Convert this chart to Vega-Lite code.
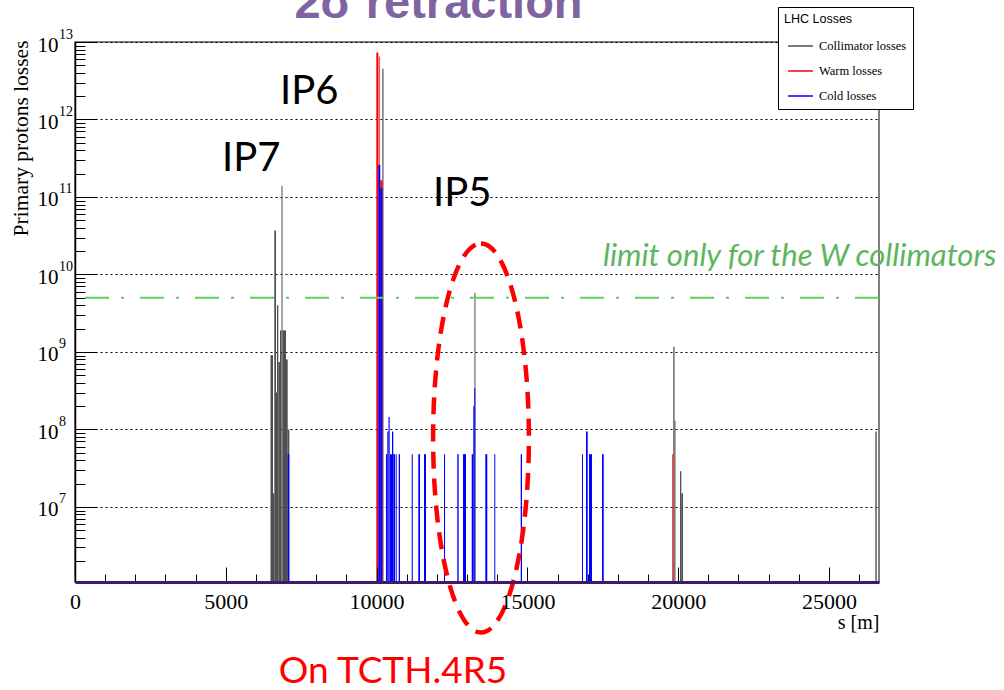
{
 "$schema": "https://vega.github.io/schema/vega-lite/v6.json",
 "width": 804,
 "height": 540,
 "autosize": {"type": "none"},
 "padding": {"left": 75, "top": 42, "right": 125, "bottom": 108},
 "background": "white",
 "config": {"view": {"stroke": "#555555", "strokeWidth": 1.5}, "font": "Liberation Serif"},
 "resolve": {"axis": {"x": "independent", "y": "independent"}},
 "layer": [
  {
   "data": {"values": [
    {"type": "Collimator losses", "s0": 6482, "s1": 6565, "v": 9.1e8},
    {"type": "Collimator losses", "s0": 6565, "s1": 6608, "v": 1.5e7},
    {"type": "Collimator losses", "s0": 6608, "s1": 6665, "v": 3.7e10},
    {"type": "Collimator losses", "s0": 6665, "s1": 6698, "v": 3.0e8},
    {"type": "Collimator losses", "s0": 6698, "s1": 6741, "v": 4.0e9},
    {"type": "Collimator losses", "s0": 6741, "s1": 6797, "v": 7.4e8},
    {"type": "Collimator losses", "s0": 6797, "s1": 6847, "v": 1.9e9},
    {"type": "Collimator losses", "s0": 6847, "s1": 6880, "v": 1.4e11},
    {"type": "Collimator losses", "s0": 6880, "s1": 6996, "v": 1.9e9},
    {"type": "Collimator losses", "s0": 6996, "s1": 7053, "v": 8.0e8},
    {"type": "Collimator losses", "s0": 7053, "s1": 7106, "v": 1.0e8},
    {"type": "Collimator losses", "s0": 10190, "s1": 10229, "v": 4.5e12},
    {"type": "Collimator losses", "s0": 13245, "s1": 13278, "v": 5.8e9},
    {"type": "Collimator losses", "s0": 19838, "s1": 19880, "v": 1.17e9},
    {"type": "Collimator losses", "s0": 19880, "s1": 19910, "v": 1.3e8},
    {"type": "Collimator losses", "s0": 20061, "s1": 20104, "v": 2.9e7},
    {"type": "Collimator losses", "s0": 20104, "s1": 20160, "v": 1.5e7},
    {"type": "Collimator losses", "s0": 26537, "s1": 26583, "v": 9.4e7},
    {"type": "Warm losses", "s0": 9991, "s1": 10057, "v": 7.3e12},
    {"type": "Warm losses", "s0": 10070, "s1": 10103, "v": 6.5e12},
    {"type": "Warm losses", "s0": 10123, "s1": 10196, "v": 1.65e11},
    {"type": "Warm losses", "s0": 19805, "s1": 19838, "v": 4.8e7},
    {"type": "Cold losses", "s0": 7053, "s1": 7106, "v": 4.8e7},
    {"type": "Cold losses", "s0": 10057, "s1": 10123, "v": 2.6e11},
    {"type": "Cold losses", "s0": 10123, "s1": 10190, "v": 1.3e11},
    {"type": "Cold losses", "s0": 10312, "s1": 10355, "v": 4.8e7},
    {"type": "Cold losses", "s0": 10355, "s1": 10395, "v": 9.4e7},
    {"type": "Cold losses", "s0": 10395, "s1": 10435, "v": 1.45e8},
    {"type": "Cold losses", "s0": 10445, "s1": 10511, "v": 4.8e7},
    {"type": "Cold losses", "s0": 10511, "s1": 10554, "v": 9.4e7},
    {"type": "Cold losses", "s0": 10554, "s1": 10611, "v": 4.8e7},
    {"type": "Cold losses", "s0": 10634, "s1": 10667, "v": 4.8e7},
    {"type": "Cold losses", "s0": 10733, "s1": 10776, "v": 4.8e7},
    {"type": "Cold losses", "s0": 11164, "s1": 11200, "v": 4.8e7},
    {"type": "Cold losses", "s0": 11383, "s1": 11440, "v": 4.8e7},
    {"type": "Cold losses", "s0": 11572, "s1": 11638, "v": 4.8e7},
    {"type": "Cold losses", "s0": 12235, "s1": 12270, "v": 4.8e7},
    {"type": "Cold losses", "s0": 12676, "s1": 12722, "v": 4.8e7},
    {"type": "Cold losses", "s0": 12865, "s1": 12965, "v": 4.8e7},
    {"type": "Cold losses", "s0": 13154, "s1": 13207, "v": 4.8e7},
    {"type": "Cold losses", "s0": 13207, "s1": 13240, "v": 2.0e8},
    {"type": "Cold losses", "s0": 13240, "s1": 13273, "v": 3.4e8},
    {"type": "Cold losses", "s0": 13605, "s1": 13671, "v": 4.8e7},
    {"type": "Cold losses", "s0": 13903, "s1": 13936, "v": 4.8e7},
    {"type": "Cold losses", "s0": 14779, "s1": 14822, "v": 4.8e7},
    {"type": "Cold losses", "s0": 16811, "s1": 16844, "v": 4.8e7},
    {"type": "Cold losses", "s0": 16944, "s1": 17000, "v": 9.4e7},
    {"type": "Cold losses", "s0": 17043, "s1": 17143, "v": 4.8e7},
    {"type": "Cold losses", "s0": 17474, "s1": 17531, "v": 4.8e7}
   ]},
   "mark": {"type": "rect", "strokeWidth": 0},
   "encoding": {
    "x": {"field": "s0", "type": "quantitative",
     "scale": {"domain": [0, 26659], "nice": false, "zero": false},
     "axis": {
      "title": "s [m]", "orient": "bottom",
      "values": [0, 5000, 10000, 15000, 20000, 25000],
      "format": "d",
      "labelFont": "Liberation Serif", "labelFontSize": 22, "labelColor": "black",
      "labelPadding": 24, "labelFlush": false, "labelOverlap": false, "labelBound": false,
      "tickSize": -15, "tickColor": "black", "tickWidth": 1,
      "domainColor": "#3d1a6b", "domainWidth": 3,
      "grid": false, "zindex": 1,
      "titleFont": "Liberation Serif", "titleFontSize": 20, "titleFontWeight": "normal", "titleColor": "black",
      "titleX": 804, "titleY": 46, "titleAlign": "right", "titleBaseline": "alphabetic", "titleAnchor": "end"
     }},
    "x2": {"field": "s1"},
    "y": {"field": "v", "type": "quantitative",
     "scale": {"type": "log", "domain": [1.076e6, 1e13], "nice": false},
     "axis": {
      "title": "Primary protons losses", "orient": "left",
      "values": [1e7, 1e8, 1e9, 1e10, 1e11, 1e12, 1e13],
      "labelExpr": "'10'",
      "labelFont": "Liberation Serif", "labelFontSize": 21, "labelColor": "black",
      "labelPadding": 39, "labelOffset": 3, "labelOverlap": false, "labelBound": false, "labelFlush": false,
      "tickSize": -22, "tickColor": "black", "tickWidth": 1,
      "domainColor": "black", "domainWidth": 1.5,
      "grid": true, "gridColor": "black", "gridDash": [2, 3], "gridWidth": 1,
      "titleFont": "Liberation Serif", "titleFontSize": 21.5, "titleFontWeight": "normal", "titleColor": "black",
      "titleAnchor": "end", "titleAngle": 270, "titleX": -48, "titleY": -2, "titleAlign": "right", "titleBaseline": "alphabetic"
     }},
    "y2": {"datum": 1.076e6},
    "fill": {"field": "type", "type": "nominal",
     "scale": {"domain": ["Collimator losses", "Warm losses", "Cold losses"], "range": ["#4f4f4f", "#ff0000", "#0000ff"]},
     "legend": {
      "title": "LHC Losses",
      "orient": "none", "legendX": 703, "legendY": -35,
      "titleFont": "Liberation Sans", "titleFontSize": 12.5, "titleFontWeight": "normal", "titleColor": "black", "titlePadding": 7,
      "labelFont": "Liberation Serif", "labelFontSize": 12.5, "labelColor": "black",
      "labelExpr": "datum.label + '\u2003\u2002'",
      "symbolType": "stroke", "symbolSize": 625, "symbolStrokeWidth": 1.5,
      "symbolOffset": 3, "labelOffset": 5, "rowPadding": 5, "padding": 6,
      "strokeColor": "black", "fillColor": "white"
     }},
    "stroke": {"field": "type", "type": "nominal",
     "scale": {"domain": ["Collimator losses", "Warm losses", "Cold losses"], "range": ["#4f4f4f", "#ff0000", "#0000ff"]},
     "legend": {
      "title": "LHC Losses",
      "orient": "none", "legendX": 703, "legendY": -35,
      "titleFont": "Liberation Sans", "titleFontSize": 12.5, "titleFontWeight": "normal", "titleColor": "black", "titlePadding": 7,
      "labelFont": "Liberation Serif", "labelFontSize": 12.5, "labelColor": "black",
      "labelExpr": "datum.label + '\u2003\u2002'",
      "symbolType": "stroke", "symbolSize": 625, "symbolStrokeWidth": 1.5,
      "symbolOffset": 3, "labelOffset": 5, "rowPadding": 5, "padding": 6,
      "strokeColor": "black", "fillColor": "white"
     }}
   }
  },
  {
   "data": {"values": [{"limit": 5e9}]},
   "mark": {"type": "rule", "color": "#5fd05f", "strokeWidth": 2, "strokeDash": [24, 16, 3, 12]},
   "encoding": {"y": {"field": "limit", "type": "quantitative", "scale": {"type": "log", "domain": [1.076e6, 1e13], "nice": false},
     "axis": {
      "orient": "left", "title": null,
      "values": [2e6,3e6,4e6,5e6,6e6,7e6,8e6,9e6,2e7,3e7,4e7,5e7,6e7,7e7,8e7,9e7,2e8,3e8,4e8,5e8,6e8,7e8,8e8,9e8,2e9,3e9,4e9,5e9,6e9,7e9,8e9,9e9,2e10,3e10,4e10,5e10,6e10,7e10,8e10,9e10,2e11,3e11,4e11,5e11,6e11,7e11,8e11,9e11,2e12,3e12,4e12,5e12,6e12,7e12,8e12,9e12],
      "labels": false, "grid": false, "domain": false,
      "tickSize": -10, "tickColor": "black", "tickWidth": 1
     }}}
  },
  {
   "data": {"values": [
    {"s": 6797, "v": 1.585e12, "label": "IP6"},
    {"s": 4874, "v": 2.16e11, "label": "IP7"},
    {"s": 11871, "v": 7.66e10, "label": "IP5"}
   ]},
   "mark": {"type": "text", "font": "Lato", "fontSize": 40, "align": "left", "baseline": "alphabetic", "color": "black"},
   "encoding": {
    "x": {"field": "s", "type": "quantitative", "scale": {"domain": [0, 26659], "nice": false, "zero": false},
     "axis": {
      "orient": "bottom", "title": null,
      "values": [1000,2000,3000,4000,6000,7000,8000,9000,11000,12000,13000,14000,16000,17000,18000,19000,21000,22000,23000,24000,26000],
      "labels": false, "grid": false, "domain": false,
      "tickSize": -8, "tickColor": "black", "tickWidth": 1
     }},
    "y": {"field": "v", "type": "quantitative", "scale": {"type": "log", "domain": [1.076e6, 1e13], "nice": false},
     "axis": {
      "orient": "left", "title": null,
      "values": [1e7, 1e8, 1e9, 1e10, 1e11, 1e12, 1e13],
      "labelExpr": "'' + round(log(datum.value)/LN10)",
      "labelFont": "Liberation Serif", "labelFontSize": 14, "labelColor": "black",
      "labelAlign": "left", "labelPadding": 16.5, "labelOffset": -8,
      "labelOverlap": false, "labelBound": false, "labelFlush": false,
      "ticks": false, "grid": false, "domain": false
     }},
    "text": {"field": "label"}
   }
  },
  {
   "data": {"values": [{"s": 17507, "v": 1.29e10, "label": "limit only for the W collimators"}]},
   "mark": {"type": "text", "font": "Lato", "fontStyle": "italic", "fontSize": 31, "align": "left", "baseline": "alphabetic", "color": "#5db55d"},
   "encoding": {
    "x": {"field": "s", "type": "quantitative", "scale": {"domain": [0, 26659], "nice": false, "zero": false}, "axis": null},
    "y": {"field": "v", "type": "quantitative", "scale": {"type": "log", "domain": [1.076e6, 1e13], "nice": false}, "axis": null},
    "text": {"field": "label"}
   }
  },
  {
   "data": {"values": [{"s": 10544, "v": 5.36e4, "label": "On TCTH.4R5"}]},
   "mark": {"type": "text", "font": "Lato", "fontSize": 37, "align": "center", "baseline": "alphabetic", "color": "#ff0000"},
   "encoding": {
    "x": {"field": "s", "type": "quantitative", "scale": {"domain": [0, 26659], "nice": false, "zero": false}, "axis": null},
    "y": {"field": "v", "type": "quantitative", "scale": {"type": "log", "domain": [1.076e6, 1e13], "nice": false}, "axis": null},
    "text": {"field": "label"}
   }
  },
  {
   "data": {"values": [{"s": 12053, "v": 2.04e13, "label": "2σ retraction"}]},
   "mark": {"type": "text", "font": "Liberation Sans", "fontWeight": "bold", "fontSize": 47, "align": "center", "baseline": "alphabetic", "color": "#8064a2"},
   "encoding": {
    "x": {"field": "s", "type": "quantitative", "scale": {"domain": [0, 26659], "nice": false, "zero": false}, "axis": null},
    "y": {"field": "v", "type": "quantitative", "scale": {"type": "log", "domain": [1.076e6, 1e13], "nice": false}, "axis": null},
    "text": {"field": "label"}
   }
  },
  {
   "data": {"values": [{"s": 13462, "v": 7.76e7}]},
   "mark": {"type": "point", "shape": "M 0 -1 A 0.2462 1 0 1 1 0 1 A 0.2462 1 0 1 1 0 -1 Z", "filled": false, "size": 151321, "stroke": "#ff0000", "strokeWidth": 4.5, "strokeDash": [17, 10], "opacity": 1},
   "encoding": {
    "x": {"field": "s", "type": "quantitative", "scale": {"domain": [0, 26659], "nice": false, "zero": false}, "axis": null},
    "y": {"field": "v", "type": "quantitative", "scale": {"type": "log", "domain": [1.076e6, 1e13], "nice": false}, "axis": null}
   }
  }
 ]
}
